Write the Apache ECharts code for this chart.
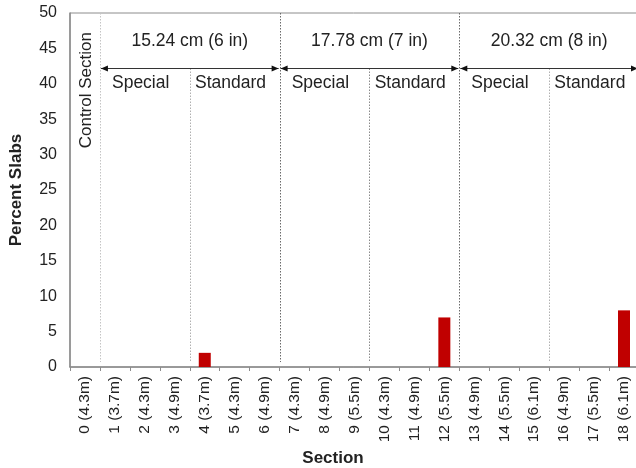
<!DOCTYPE html>
<html>
<head>
<meta charset="utf-8">
<script src="https://cdn.jsdelivr.net/npm/echarts@6/dist/echarts.min.js"></script>
<style>
  html, body { margin: 0; padding: 0; background: #fff; }
  #chart { width: 636px; height: 468px; }
</style>
</head>
<body>
<div id="chart"></div>
<script>
// Section labels (section number and slab length)
const sections = [
  '0 (4.3m)', '1 (3.7m)', '2 (4.3m)', '3 (4.9m)', '4 (3.7m)', '5 (4.3m)', '6 (4.9m)',
  '7 (4.3m)', '8 (4.9m)', '9 (5.5m)', '10 (4.3m)', '11 (4.9m)', '12 (5.5m)',
  '13 (4.9m)', '14 (5.5m)', '15 (6.1m)', '16 (4.9m)', '17 (5.5m)', '18 (6.1m)'
];
// Percent of slabs per section
const percentSlabs = [0, 0, 0, 0, 2, 0, 0, 0, 0, 0, 0, 0, 7, 0, 0, 0, 0, 0, 8];
// Slab thickness groups and the section index range each one covers [first, end)
const thicknessLabels = ['15.24 cm (6 in)', '17.78 cm (7 in)', '20.32 cm (8 in)'];
const thicknessRanges = [[1, 7], [7, 13], [13, 19]];
// Joint design halves within each thickness group
const designLabels = ['Special', 'Standard'];
const controlLabel = 'Control Section';
// Value axis ticks
const yMin = 0, yMax = 50, yStep = 5;

const FONT = "'Liberation Sans', Arial, Helvetica, sans-serif";
const TEXT = '#222';

const chart = echarts.init(document.getElementById('chart'));

function groupItem(params, api) {
  const s = api.value(0), e = api.value(1), i = api.value(2);
  const m = (s + e) / 2;
  const arrowY = 42.2, lowY = 0.7;
  const ya = Math.round(api.coord([s, arrowY])[1]) + 0.5;
  const xs = api.coord([s, 0])[0];
  const xe = api.coord([e, 0])[0];
  const xm = api.coord([m, 0])[0];
  const yTop = api.coord([0, yMax])[1];
  const yLow = api.coord([0, lowY])[1];
  const children = [];
  // divider at group start
  children.push({
    type: 'line',
    shape: { x1: Math.round(xs) + 0.5, y1: yTop, x2: Math.round(xs) + 0.5, y2: yLow },
    style: { stroke: i === 0 ? '#c4c4c4' : '#6a6a6a', lineWidth: 1, lineDash: [1.5, 1.5] }
  });
  // divider between the two joint designs
  children.push({
    type: 'line',
    shape: { x1: Math.round(xm) + 0.5, y1: ya, x2: Math.round(xm) + 0.5, y2: yLow },
    style: { stroke: i === 1 ? '#8a8a8a' : '#b0b0b0', lineWidth: 1, lineDash: [1.5, 1.5] }
  });
  // double-headed span arrow
  const a0 = xs + 1, a1 = xe - 1;
  children.push({
    type: 'line',
    shape: { x1: a0, y1: ya, x2: a1, y2: ya },
    style: { stroke: '#333', lineWidth: 1 }
  });
  children.push({
    type: 'polygon',
    shape: { points: [[a0, ya], [a0 + 7, ya - 3], [a0 + 7, ya + 3]] },
    style: { fill: '#111' }
  });
  children.push({
    type: 'polygon',
    shape: { points: [[a1, ya], [a1 - 7, ya - 3], [a1 - 7, ya + 3]] },
    style: { fill: '#111' }
  });
  // thickness label
  const lab = api.coord([m, 46.0]);
  children.push({
    type: 'text', x: lab[0], y: lab[1],
    style: { text: thicknessLabels[i], fill: TEXT, fontSize: 17.5, fontFamily: FONT,
             align: 'center', verticalAlign: 'middle' }
  });
  // joint design labels
  const halves = [(s + m) / 2, (m + e) / 2];
  halves.forEach(function (h, k) {
    const p = api.coord([h - 0.14, 40.1]);
    children.push({
      type: 'text', x: p[0], y: p[1],
      style: { text: designLabels[k], fill: TEXT, fontSize: 17.5, fontFamily: FONT,
               align: 'center', verticalAlign: 'middle' }
    });
  });
  return { type: 'group', children: children };
}

function controlItem(params, api) {
  const p = api.coord([0.53, 39.1]);
  return {
    type: 'text', x: p[0], y: p[1], rotation: Math.PI / 2,
    style: { text: controlLabel, fill: TEXT, fontSize: 17, fontFamily: FONT,
             align: 'center', verticalAlign: 'middle' }
  };
}

chart.setOption({
  animation: false,
  textStyle: { fontFamily: FONT },
  grid: {
    left: 70, right: -3, top: 13, bottom: 101,
    outerBoundsMode: 'none',
    containLabel: false,
    show: true, borderColor: '#8c8c8c', borderWidth: 1, backgroundColor: 'transparent'
  },
  xAxis: [
    {
      type: 'category',
      data: sections,
      name: 'Section',
      nameLocation: 'middle',
      nameGap: 78,
      nameTextStyle: { fontSize: 17, fontWeight: 'bold', color: TEXT, padding: [0, 43, 0, 0] },
      axisLine: { lineStyle: { color: '#8c8c8c', width: 1.5 } },
      axisTick: { show: true, length: 4, lineStyle: { color: '#8c8c8c' } },
      axisLabel: { rotate: 90, fontSize: 15.5, color: TEXT, margin: 9, interval: 0 },
      splitLine: { show: false }
    },
    {
      type: 'value', min: 0, max: sections.length, show: false
    }
  ],
  yAxis: {
    type: 'value',
    min: yMin, max: yMax, interval: yStep,
    name: 'Percent Slabs',
    nameLocation: 'middle',
    nameGap: 45,
    nameTextStyle: { fontSize: 17, fontWeight: 'bold', color: TEXT },
    axisLine: { show: true, lineStyle: { color: '#8c8c8c', width: 1.5 } },
    axisTick: { show: false },
    axisLabel: { fontSize: 16, color: TEXT, margin: 13 },
    splitLine: { show: false }
  },
  series: [
    {
      type: 'bar',
      xAxisIndex: 0,
      data: percentSlabs,
      barWidth: 12,
      itemStyle: { color: '#c00000' },
      z: 3
    },
    {
      type: 'custom',
      xAxisIndex: 1,
      renderItem: groupItem,
      clip: false,
      data: thicknessRanges.map(function (r, i) { return [r[0], r[1], i]; }),
      z: 2,
      silent: true
    },
    {
      type: 'custom',
      xAxisIndex: 1,
      renderItem: controlItem,
      clip: false,
      data: [[0]],
      z: 2,
      silent: true
    }
  ]
});
</script>
</body>
</html>
